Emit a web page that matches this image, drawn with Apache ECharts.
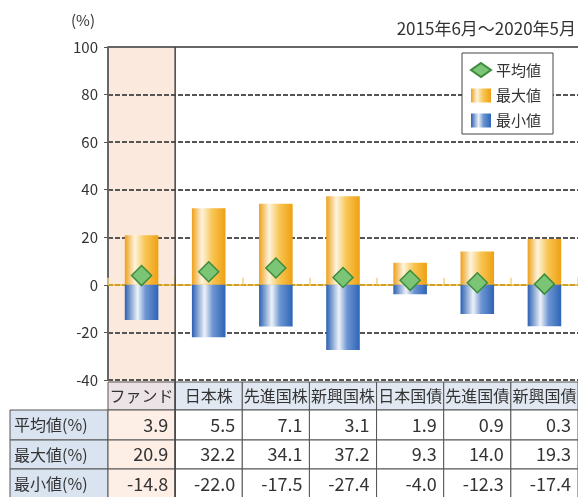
<!DOCTYPE html>
<html><head><meta charset="utf-8">
<script src="https://cdn.jsdelivr.net/npm/echarts@6.0.0/dist/echarts.min.js"></script>
<style>html,body{margin:0;padding:0;background:#fff}#c{width:578px;height:497px}</style>
</head><body><div id="c"></div>
<script>
const categories = ['ファンド','日本株','先進国株','新興国株','日本国債','先進国債','新興国債'];
const avgVals = [3.9, 5.5, 7.1, 3.1, 1.9, 0.9, 0.3];
const maxVals = [20.9, 32.2, 34.1, 37.2, 9.3, 14.0, 19.3];
const minVals = [-14.8, -22.0, -17.5, -27.4, -4.0, -12.3, -17.4];
const rowLabels = ['平均値(%)', '最大値(%)', '最小値(%)'];
const yMin = -40, yMax = 100, yStep = 20;
const periodText = '2015年6月～2020年5月';
const unitText = '(%)';

const FONT = '"Noto Sans CJK JP", sans-serif';
const chart = echarts.init(document.getElementById('c'), null, {renderer: 'canvas'});
const orangeGrad = new echarts.graphic.LinearGradient(0, 0, 1, 0, [
  {offset: 0, color: '#eea01a'}, {offset: 0.3, color: '#fdf4de'},
  {offset: 0.6, color: '#f8c655'}, {offset: 1, color: '#efa012'}]);
const blueGrad = new echarts.graphic.LinearGradient(0, 0, 1, 0, [
  {offset: 0, color: '#2b60b2'}, {offset: 0.38, color: '#edf2f9'},
  {offset: 0.62, color: '#6d96d2'}, {offset: 1, color: '#2e64b6'}]);

chart.setOption({
  animation: false,
  textStyle: {fontFamily: FONT},
  title: [
    {text: unitText, left: 66, top: 8, textStyle: {fontSize: 15, fontWeight: 'normal', color: '#333', fontFamily: FONT}},
    {text: periodText, right: -3, top: 15, textStyle: {fontSize: 17, fontWeight: 'normal', color: '#333', fontFamily: FONT}}
  ],
  legend: {
    data: [{name: '平均値', icon: 'diamond'}, {name: '最大値', icon: 'rect'}, {name: '最小値', icon: 'rect'}],
    orient: 'vertical', left: 462, top: 53,
    backgroundColor: '#fff', borderColor: '#444', borderWidth: 1, borderRadius: 0,
    padding: [9, 12, 6, 8], itemGap: 10, itemWidth: 20, itemHeight: 14,
    textStyle: {fontSize: 15, color: '#333', fontFamily: FONT}
  },
  grid: {left: 108, right: 0, top: 47, bottom: 117, containLabel: false},
  xAxis: {
    type: 'category', data: categories, boundaryGap: true,
    axisLine: {show: true, onZero: true, lineStyle: {color: '#f5b820', width: 1.5}},
    axisTick: {show: true, inside: true, length: 7, lineStyle: {color: '#f6d27a', width: 1.5}},
    axisLabel: {show: false}, splitLine: {show: false}
  },
  yAxis: {
    type: 'value', min: yMin, max: yMax, interval: yStep,
    axisLine: {show: true, lineStyle: {color: '#666', width: 2}},
    axisTick: {show: true, length: 4, lineStyle: {color: '#555'}},
    axisLabel: {fontSize: 15, color: '#333', margin: 10, fontFamily: FONT},
    splitLine: {show: true, lineStyle: {color: '#555', type: [5, 2], width: 2}}
  },
  series: [
    {name: '最大値', type: 'bar', stack: 'r', data: maxVals, barWidth: '50%', itemStyle: {color: orangeGrad}, z: 3},
    {name: '最小値', type: 'bar', stack: 'r', data: minVals, barWidth: '50%', itemStyle: {color: blueGrad}, z: 3},
    {name: '平均値', type: 'scatter', data: avgVals, symbol: 'diamond', symbolSize: 20,
     itemStyle: {color: '#7cc576', borderColor: '#3c8c3c', borderWidth: 1.5, opacity: 1}, z: 5}
  ]
});

function buildTable() {
  const W = chart.getWidth(), H = chart.getHeight();
  const x0 = chart.convertToPixel({xAxisIndex: 0}, categories[0]);
  const x1 = chart.convertToPixel({xAxisIndex: 0}, categories[1]);
  const bw = x1 - x0;
  const yTop = chart.convertToPixel({yAxisIndex: 0}, yMax);
  const yBot = chart.convertToPixel({yAxisIndex: 0}, yMin);
  const left = x0 - bw / 2;
  const hdrTop = yBot + 2, hdrH = 28;
  const rowH = [30, 29, 30];
  const labelLeft = 10;
  const els = [];
  // fund column background
  els.push({type: 'rect', z: -10, silent: true, shape: {x: left + 1, y: yTop, width: bw, height: H - yTop}, style: {fill: '#fce9de'}});
  // top border
  els.push({type: 'line', z: 50, shape: {x1: left, y1: yTop, x2: W, y2: yTop}, style: {stroke: '#666', lineWidth: 2}});
  // separator after fund column
  els.push({type: 'line', z: 50, shape: {x1: left + bw, y1: yTop, x2: left + bw, y2: H}, style: {stroke: '#444', lineWidth: 1.5}});
  // header row
  categories.forEach((c, i) => {
    const cx = left + i * bw;
    els.push({type: 'rect', z: 40, shape: {x: cx, y: hdrTop, width: bw, height: hdrH},
      style: {fill: i === 0 ? '#ece3e6' : '#e1e8f2', stroke: '#555', lineWidth: 1}});
    els.push({type: 'text', z: 41, x: cx + bw / 2, y: hdrTop + hdrH / 2,
      style: {text: c, fontSize: 16, fontFamily: FONT, fill: '#333', align: 'center', verticalAlign: 'middle'}});
  });
  const rows = [avgVals, maxVals, minVals];
  let y = hdrTop + hdrH;
  rows.forEach((vals, r) => {
    const h = rowH[r];
    els.push({type: 'rect', z: 40, shape: {x: labelLeft, y: y, width: left - labelLeft, height: h},
      style: {fill: '#dae3f0', stroke: '#555', lineWidth: 1}});
    els.push({type: 'text', z: 41, x: labelLeft + 4, y: y + h / 2,
      style: {text: rowLabels[r], fontSize: 16, fontFamily: FONT, fill: '#333', align: 'left', verticalAlign: 'middle'}});
    vals.forEach((v, i) => {
      const cx = left + i * bw;
      els.push({type: 'rect', z: 40, shape: {x: cx, y: y, width: bw, height: h},
        style: {fill: i === 0 ? '#fdeee6' : '#fff', stroke: '#555', lineWidth: 1}});
      els.push({type: 'text', z: 41, x: cx + bw - 7, y: y + h / 2,
        style: {text: v.toFixed(1), fontSize: 18, fontFamily: FONT, fill: '#333', align: 'right', verticalAlign: 'middle'}});
    });
    y += h;
  });
  chart.setOption({graphic: {elements: els}});
}
buildTable();
</script>
</body></html>
